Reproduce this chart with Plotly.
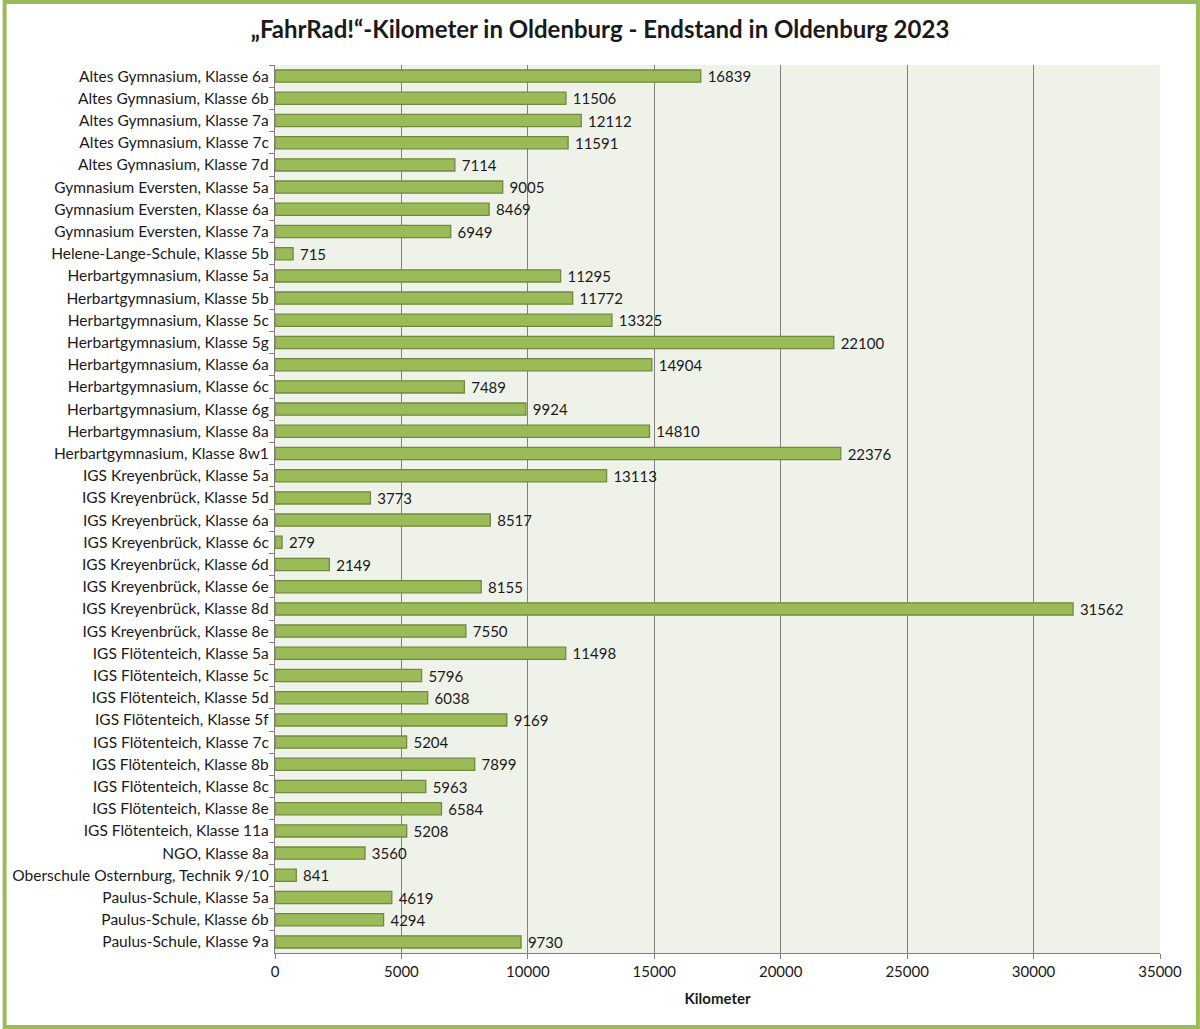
import plotly.graph_objects as go

klassen = [
    "Altes Gymnasium, Klasse 6a", "Altes Gymnasium, Klasse 6b", "Altes Gymnasium, Klasse 7a",
    "Altes Gymnasium, Klasse 7c", "Altes Gymnasium, Klasse 7d", "Gymnasium Eversten, Klasse 5a",
    "Gymnasium Eversten, Klasse 6a", "Gymnasium Eversten, Klasse 7a", "Helene-Lange-Schule, Klasse 5b",
    "Herbartgymnasium, Klasse 5a", "Herbartgymnasium, Klasse 5b", "Herbartgymnasium, Klasse 5c",
    "Herbartgymnasium, Klasse 5g", "Herbartgymnasium, Klasse 6a", "Herbartgymnasium, Klasse 6c",
    "Herbartgymnasium, Klasse 6g", "Herbartgymnasium, Klasse 8a", "Herbartgymnasium, Klasse 8w1",
    "IGS Kreyenbrück, Klasse 5a", "IGS Kreyenbrück, Klasse 5d", "IGS Kreyenbrück, Klasse 6a",
    "IGS Kreyenbrück, Klasse 6c", "IGS Kreyenbrück, Klasse 6d", "IGS Kreyenbrück, Klasse 6e",
    "IGS Kreyenbrück, Klasse 8d", "IGS Kreyenbrück, Klasse 8e", "IGS Flötenteich, Klasse 5a",
    "IGS Flötenteich, Klasse 5c", "IGS Flötenteich, Klasse 5d", "IGS Flötenteich, Klasse 5f",
    "IGS Flötenteich, Klasse 7c", "IGS Flötenteich, Klasse 8b", "IGS Flötenteich, Klasse 8c",
    "IGS Flötenteich, Klasse 8e", "IGS Flötenteich, Klasse 11a", "NGO, Klasse 8a",
    "Oberschule Osternburg, Technik 9/10", "Paulus-Schule, Klasse 5a", "Paulus-Schule, Klasse 6b",
    "Paulus-Schule, Klasse 9a",
]
kilometer = [
    16839, 11506, 12112, 11591, 7114, 9005, 8469, 6949, 715,
    11295, 11772, 13325, 22100, 14904, 7489, 9924, 14810, 22376,
    13113, 3773, 8517, 279, 2149, 8155, 31562, 7550,
    11498, 5796, 6038, 9169, 5204, 7899, 5963, 6584, 5208,
    3560, 841, 4619, 4294, 9730,
]

FONT = "Lato, 'Liberation Sans', sans-serif"

fig = go.Figure(go.Bar(
    x=kilometer, y=klassen, orientation="h",
    marker=dict(color="#9BBB59", line=dict(color="#71893F", width=1.3)),
    texttemplate=" %{x}", textposition="outside", cliponaxis=False, constraintext="none",
    textfont=dict(size=15, color="#1a1a1a", family=FONT),
))

# plot area: 273..1160 px wide, 65..953 px high
pw, ph = 887, 888
fig.add_shape(type="rect", xref="paper", yref="paper",
              x0=(2 - 273) / pw, x1=(1198 - 273) / pw,
              y0=(953 - 1027) / ph, y1=(953 - 2) / ph,
              line=dict(color="#9BBB59", width=4), fillcolor="rgba(0,0,0,0)", layer="above")

fig.update_layout(
    width=1200, height=1029,
    margin=dict(l=273, r=40, t=65, b=76),
    paper_bgcolor="white", plot_bgcolor="#EFF2E8",
    font=dict(family=FONT, size=15.5, color="#1a1a1a"),
    title=dict(text="<b>„FahrRad!“-Kilometer in Oldenburg - Endstand in Oldenburg 2023</b>",
               x=0.5, xanchor="center", y=(1029 - 30) / 1029, yanchor="middle",
               font=dict(size=24, family=FONT, color="#1a1a1a")),
    bargap=0.45,
    showlegend=False,
)
fig.update_xaxes(range=[0, 35000], dtick=5000, tickformat="d",
                 showgrid=True, gridcolor="#808080", gridwidth=1.2,
                 showline=True, linecolor="#808080", linewidth=1.2,
                 ticks="outside", ticklen=5, tickcolor="#808080",
                 tickfont=dict(size=15), zeroline=False,
                 title=dict(text="<b>Kilometer</b>", font=dict(size=15), standoff=14))
fig.update_yaxes(autorange="reversed", showline=True, linecolor="#808080", linewidth=1.2,
                 ticks="outside", tickson="boundaries", ticklen=5, tickcolor="#808080",
                 tickfont=dict(size=15.5), ticklabelstandoff=2)

fig.write_html("out.html", config={"displayModeBar": False},
               post_script="document.body.style.margin='0';")
